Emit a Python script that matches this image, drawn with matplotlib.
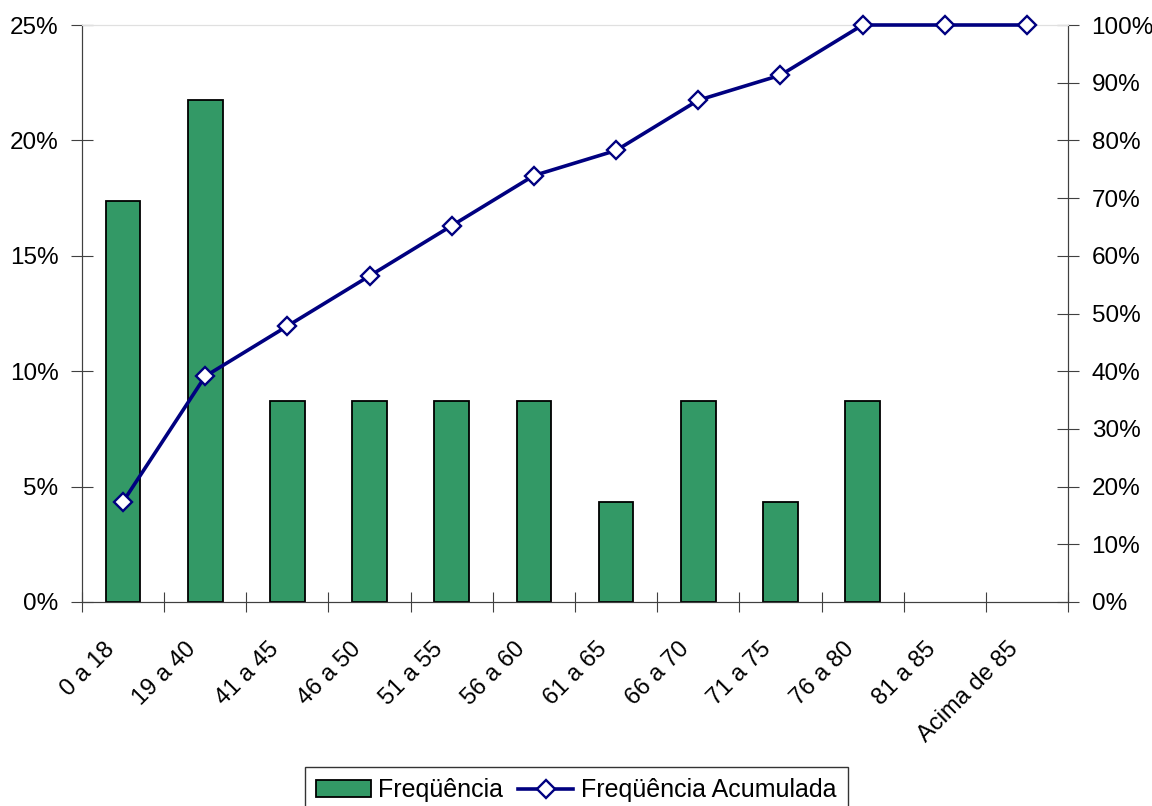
import matplotlib.pyplot as plt
from matplotlib.ticker import PercentFormatter
from matplotlib.transforms import ScaledTranslation
import numpy as np

plt.rcParams['font.family'] = ['Liberation Sans', 'DejaVu Sans']

# data
categories = ['0 a 18', '19 a 40', '41 a 45', '46 a 50', '51 a 55', '56 a 60',
              '61 a 65', '66 a 70', '71 a 75', '76 a 80', '81 a 85', 'Acima de 85']
freq = [17.39, 21.74, 8.70, 8.70, 8.70, 8.70, 4.35, 8.70, 4.35, 8.70, 0, 0]
freq_acum = [17.39, 39.13, 47.83, 56.52, 65.22, 73.91, 78.26, 86.96, 91.30, 100, 100, 100]

fig = plt.figure(figsize=(11.52, 8.06), dpi=100)
ax = fig.add_axes([82/1152, 1-602/806, 986/1152, 577/806])
ax2 = ax.twinx()

x = np.arange(len(categories))
bars = ax.bar(x, freq, width=0.42, color='#339966', edgecolor='black', linewidth=1.3,
              label='Freqüência', zorder=2)
for b, v in zip(bars, freq):
    if v == 0:
        b.set_visible(False)
line, = ax2.plot(x, freq_acum, color='#000080', linewidth=2.6, marker='D', markersize=9.5,
                 markerfacecolor='white', markeredgecolor='#000080', markeredgewidth=1.7,
                 label='Freqüência Acumulada', zorder=3, clip_on=False)

ax.set_xlim(-0.5, len(categories) - 0.5)
ax.set_ylim(0, 25)
ax2.set_ylim(0, 100)
ax.set_yticks([0, 5, 10, 15, 20, 25])
ax2.set_yticks(np.arange(0, 101, 10))
ax.yaxis.set_major_formatter(PercentFormatter(decimals=0))
ax2.yaxis.set_major_formatter(PercentFormatter(decimals=0))

ax.set_xticks(np.arange(len(categories) + 1) - 0.5, minor=False)
ax.set_xticklabels([])
ax.set_xticks(x, minor=True)
ax.set_xticklabels(categories, minor=True, rotation=45, ha='right',
                   rotation_mode='anchor', fontsize=17)
ax.tick_params(axis='x', which='minor', length=0, pad=26)
ax.tick_params(axis='x', which='major', length=14, direction='inout', color='#404040')
ax.tick_params(axis='y', direction='inout', length=16, labelsize=17.5, color='#404040', pad=9)
ax2.tick_params(axis='y', direction='inout', length=16, labelsize=17.5, color='#404040', pad=9)
shift = ScaledTranslation(-0.2, 0, fig.dpi_scale_trans)
for lbl in ax.get_xticklabels(minor=True):
    lbl.set_transform(lbl.get_transform() + shift)

for a in (ax, ax2):
    a.spines['top'].set_color('#e0e0e0')
    a.spines['left'].set_color('#404040')
    a.spines['right'].set_color('#404040')
    a.spines['bottom'].set_color('#404040')
ax2.set_zorder(ax.get_zorder() + 1)
ax2.patch.set_visible(False)

leg = fig.legend([bars, line], ['Freqüência', 'Freqüência Acumulada'], loc='upper center',
                 bbox_to_anchor=(0.5, 1-767/806), ncol=2, fontsize=18, frameon=True,
                 fancybox=False, edgecolor='black', handlelength=2.2, columnspacing=0.6,
                 handletextpad=0.3, borderpad=0.45, borderaxespad=0)
leg.get_frame().set_linewidth(1.0)

fig.savefig('out.png', dpi=100)
